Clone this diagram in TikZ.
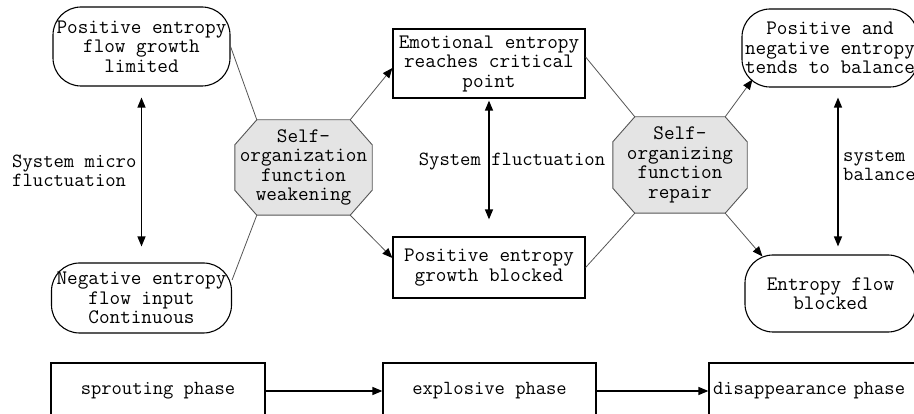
\documentclass[tikz,border=0pt]{standalone}
\usepackage{fontspec}
\usetikzlibrary{arrows.meta,calc,backgrounds}
\definecolor{octfill}{HTML}{E4E4E4}
\definecolor{linegray}{HTML}{555555}
\tikzset{
  txt/.style={font=\ttfamily\fontsize{20.6}{19.5}\selectfont, align=center, inner sep=0pt},
  lbl/.style={font=\ttfamily\fontsize{20.1}{19}\selectfont, inner sep=0pt},
  rbox/.style={txt, draw, line width=1.1pt, rounded corners=28pt},
  sbox/.style={txt, draw, line width=1.2pt},
  pbox/.style={sbox, font=\ttfamily\fontsize{20}{19}\selectfont, minimum height=56pt},
  octo/.style={txt},
  conn/.style={draw=linegray, line width=0.8pt},
  arr/.style={-{Triangle[length=10pt,width=8pt,color=black]}},
  darr/.style={line width=1.3pt, {Triangle[length=10pt,width=8pt]}-{Triangle[length=10pt,width=8pt]}},
  bconn/.style={line width=1.3pt, -{Triangle[length=10pt,width=8pt]}}
}
\newcommand{\myoct}[1]{%
  \fill[octfill, draw=linegray, line width=0.9pt]
    ($(#1.north west)+(22,0)$) -- ($(#1.north east)+(-22,0)$) --
    ($(#1.north east)+(0,25)$) -- ($(#1.south east)+(0,-25)$) --
    ($(#1.south east)+(-22,0)$) -- ($(#1.south west)+(22,0)$) --
    ($(#1.south west)+(0,-25)$) -- ($(#1.north west)+(0,25)$) -- cycle;}
\begin{document}
\begin{tikzpicture}[x=1pt,y=-1pt]
\useasboundingbox (0,0) rectangle (914,414);
\clip (0,0) rectangle (914,414);

% left column
\node[rbox, minimum width=177pt, minimum height=79pt] (PL) at (141.5,46.5) {Positive entropy\\flow growth\\limited};
\node[rbox, minimum width=180pt, minimum height=70pt] (NL) at (141.5,298) {Negative entropy\\flow input\\Continuous};

% octagons
\node[octo, minimum width=137pt, minimum height=95pt] (LO) at (303.5,167.5) {Self-\\organization\\function\\weakening};
\node[octo, minimum width=134pt, minimum height=96pt] (RO) at (680,165) {Self-\\organizing\\function\\repair};
\begin{scope}[on background layer]
  \myoct{LO}
  \myoct{RO}
\end{scope}

% middle column
\node[sbox, minimum width=192pt, minimum height=69pt] (EM) at (489,63.5) {Emotional entropy\\reaches critical\\point};
\node[sbox, minimum width=192pt, minimum height=61pt] (PB) at (489,267.5) {Positive entropy\\growth blocked};

% right column
\node[rbox, minimum width=176pt, minimum height=78pt] (BAL) at (830,48) {Positive and\\negative entropy\\tends to balance};
\node[rbox, minimum width=171pt, minimum height=77pt] (EFB) at (830.5,293.5) {Entropy flow\\blocked};

% labels
\node[lbl, anchor=west, align=left] (LM) at (12,171) {System micro\\fluctuation};
\node[lbl] (LF) at (512,162) {System fluctuation};
\node[lbl, anchor=west, align=left] (LB) at (843,165) {system\\balance};

% phases
\node[pbox, minimum width=214pt] (SP) at (158,391) {sprouting phase};
\node[pbox, minimum width=213pt] (EX) at (489.5,391) {explosive phase};
\node[pbox, text width=205pt, align=left, inner xsep=4pt] (DP) at (815.5,391) {disappearance phase};

% connectors
\draw[conn] (PL.east) -- ($(LO.north west)+(22,0)$);
\draw[conn,arr] ($(LO.north east)+(-22,0)$) -- ([yshift=-4.5pt]EM.west);
\draw[conn] ($(LO.south west)+(22,0)$) -- ([yshift=18pt]NL.east);
\draw[conn,arr] ($(LO.south east)+(-22,0)$) -- ([yshift=9.5pt]PB.west);
\draw[conn] ([yshift=6.5pt]EM.east) -- ($(RO.north west)+(22,0)$);
\draw[conn] (PB.east) -- ($(RO.south west)+(22,0)$);
\draw[conn,arr] ($(RO.north east)+(-22,0)$) -- ([xshift=11pt,yshift=8pt]BAL.south west);
\draw[conn,arr] ($(RO.south east)+(-22,0)$) -- ([xshift=18pt,yshift=-2pt]EFB.north west);

% fluctuation arrows
\draw[darr] ([yshift=-11pt]PL.south) -- ([yshift=16pt]NL.north);
\draw[darr] ([yshift=-2pt]EM.south) -- ([yshift=17pt]PB.north);
\draw[darr] ([xshift=8pt,yshift=-10pt]BAL.south) -- ([xshift=7.5pt,yshift=8pt]EFB.north);

% phase arrows
\draw[bconn] (SP.east) -- (EX.west);
\draw[bconn] (EX.east) -- (DP.west);
\end{tikzpicture}
\end{document}
